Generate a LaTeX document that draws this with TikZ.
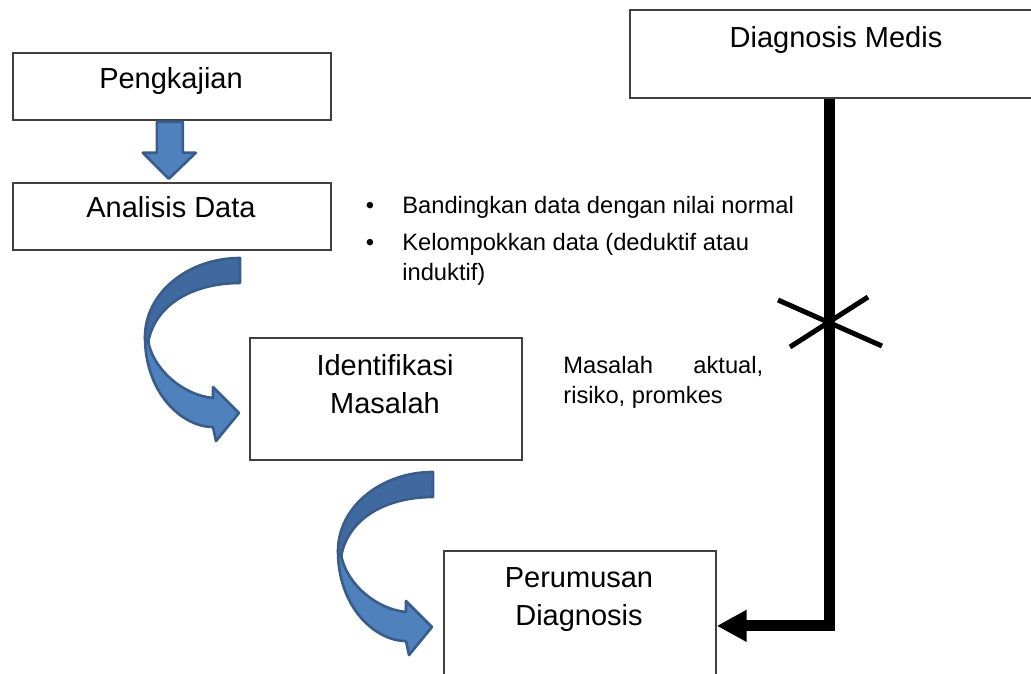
\documentclass[tikz,border=0pt]{standalone}
\usepackage{fontspec}
\setmainfont{Liberation Sans}
\usetikzlibrary{arrows.meta, positioning, calc}
\definecolor{boxgray}{HTML}{404040}
\definecolor{flowblue}{HTML}{4F81BD}
\definecolor{flowshadeblue}{HTML}{4069A0}
\definecolor{flowedge}{HTML}{385D8A}

\tikzset{
  stagebox/.style={draw=boxgray, line width=1pt, inner sep=0pt, anchor=north west},
  biglabel/.style={font=\fontsize{16.5}{21.6}\selectfont, inner sep=0pt, align=center},
  smalltext/.style={font=\fontsize{13.5}{17.1}\selectfont, inner sep=0pt},
  flowfill/.style={fill=flowblue, draw=flowedge, line width=1.5pt, line join=round},
  flowshade/.style={fill=flowshadeblue, draw=flowedge, line width=1.5pt, line join=round},
  medline/.style={black, line width=0.22cm, -{Triangle[length=0.6cm, width=0.6cm]}},
  crossline/.style={black, line width=0.1cm},
  curvearrow/.pic={
    % lower band with head
    \filldraw[flowfill] (-95,79) .. controls (-95,135) and (-58,169) .. (-27,169)
      -- (-24,183) -- (-1,155) -- (-27,129) -- (-27,140)
      .. controls (-58,137) and (-88,110) .. (-92,82) -- cycle;
    % upper band
    \filldraw[flowshade] (0,0) .. controls (-52,0) and (-95,35) .. (-95,79)
      -- (-92,85) .. controls (-85,45) and (-45,25) .. (0,25) -- cycle;
  }
}

\begin{document}
\begin{tikzpicture}[x=0.02cm, y=-0.02cm]
  \useasboundingbox (0,0) rectangle (1031,673);
  \clip (0,0) rectangle (1031,673);

  % Boxes
  \node[stagebox, minimum width=6.36cm, minimum height=1.34cm] (peng) at (12,52) {};
  \node[stagebox, minimum width=6.36cm, minimum height=1.34cm] (anal) at (12,182) {};
  \node[stagebox, minimum width=5.44cm, minimum height=2.44cm] (iden) at (249,337) {};
  \node[stagebox, minimum width=5.44cm, minimum height=3cm] (perum) at (443,550) {};
  \node[stagebox, minimum width=8.28cm, minimum height=1.76cm] (dm) at (629,9) {};

  % Box labels
  \node[biglabel, anchor=base] (pengT) at (171,88) {Pengkajian};
  \node[biglabel, anchor=base] (analT) at (171,217) {Analisis Data};
  \node[biglabel, anchor=north] (idenT) at (385,354) {Identifikasi\\Masalah};
  \node[biglabel, anchor=north] (perumT) at (579,567) {Perumusan\\Diagnosis};
  \node[biglabel, anchor=base] (dmT) at (836,47) {Diagnosis Medis};

  % Notes
  \node[smalltext, anchor=base] (dot1) at (370,213) {\textbullet};
  \node[smalltext, anchor=base west] (item1) at (402,213) {Bandingkan data dengan nilai normal};
  \node[smalltext, anchor=base] (dot2) at (370,250) {\textbullet};
  \node[smalltext, anchor=north west, align=left] (item2) at (402,232.6) {Kelompokkan data (deduktif atau\\induktif)};
  \node[smalltext, anchor=north west, text width=4cm, align=justify] (masalah) at (563,355.6)
    {\hyphenpenalty=10000 Masalah aktual, risiko, promkes};

  % Block arrow Pengkajian -> Analisis Data
  \filldraw[flowfill] ($(peng.south)+(-15,1)$) -- ++(26,0) -- ++(0,31) -- ++(13,0)
    -- ++(-27,26) -- ++(-26,-26) -- ++(14,0) -- cycle;

  % Curved arrows
  \pic at (240,258) {curvearrow};
  \pic at (433,472) {curvearrow};

  % Diagnosis Medis -> Perumusan Diagnosis
  \coordinate (dmfoot) at ($(dm.south)+(-7,0)$);
  \draw[medline] (dmfoot) |- (perum.east);

  % Cross
  \draw[crossline] (778,300) -- (882,346);
  \draw[crossline] (790,347) -- (868,297);
\end{tikzpicture}
\end{document}
